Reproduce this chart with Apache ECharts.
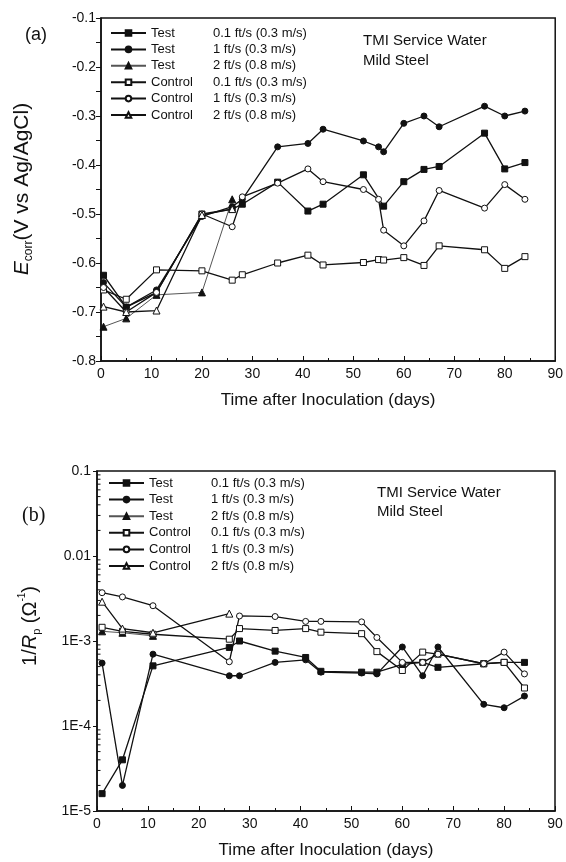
<!DOCTYPE html>
<html>
<head>
<meta charset="utf-8">
<script src="https://cdn.jsdelivr.net/npm/echarts@6/dist/echarts.min.js"></script>
<style>
html,body{margin:0;padding:0;background:#fff;}
#c{width:566px;height:862px;}
</style>
</head>
<body>
<div id="c"></div>
<script>
// ---------- Panel (a): Ecorr ----------
var aTest01Days = [0.5, 5, 11, 20, 26, 28, 35, 41, 44, 52, 56, 60, 64, 67, 76, 80, 84];
var aTest01     = [-0.625, -0.69, -0.66, -0.50, -0.49, -0.48, -0.435, -0.494, -0.48, -0.42, -0.484, -0.434, -0.409, -0.403, -0.335, -0.408, -0.395];
var aTest1Days  = [0.5, 5, 11, 20, 26, 28, 35, 41, 44, 52, 55, 56, 60, 64, 67, 76, 80, 84];
var aTest1      = [-0.64, -0.69, -0.655, -0.505, -0.485, -0.47, -0.363, -0.356, -0.327, -0.351, -0.363, -0.373, -0.315, -0.30, -0.322, -0.28, -0.30, -0.29];
var aTest2Days  = [0.5, 5, 11, 20, 26];
var aTest2      = [-0.73, -0.713, -0.665, -0.66, -0.47];
var aCtl01Days  = [0.5, 5, 11, 20, 26, 28, 35, 41, 44, 52, 55, 56, 60, 64, 67, 76, 80, 84];
var aCtl01      = [-0.655, -0.674, -0.614, -0.616, -0.635, -0.624, -0.60, -0.584, -0.604, -0.599, -0.593, -0.594, -0.589, -0.605, -0.565, -0.573, -0.611, -0.587];
var aCtl1Days   = [0.5, 5, 11, 20, 26, 28, 35, 41, 44, 52, 55, 56, 60, 64, 67, 76, 80, 84];
var aCtl1       = [-0.65, -0.70, -0.66, -0.50, -0.526, -0.465, -0.437, -0.408, -0.434, -0.45, -0.47, -0.533, -0.565, -0.514, -0.452, -0.488, -0.44, -0.47];
var aCtl2Days   = [0.5, 5, 11, 20, 26];
var aCtl2       = [-0.689, -0.70, -0.697, -0.502, -0.49];

// ---------- Panel (b): 1/Rp ----------
var bTest01Days = [1, 5, 11, 26, 28, 35, 41, 44, 52, 55, 60, 64, 67, 76, 80, 84];
var bTest01     = [1.6e-5, 4e-5, 5.1e-4, 8.4e-4, 1.0e-3, 7.6e-4, 6.4e-4, 4.4e-4, 4.3e-4, 4.3e-4, 5.3e-4, 5.6e-4, 4.9e-4, 5.4e-4, 5.6e-4, 5.6e-4];
var bTest1Days  = [1, 5, 11, 26, 28, 35, 41, 44, 52, 55, 60, 64, 67, 76, 80, 84];
var bTest1      = [5.5e-4, 2e-5, 7e-4, 3.9e-4, 3.9e-4, 5.6e-4, 6.0e-4, 4.3e-4, 4.2e-4, 4.1e-4, 8.5e-4, 3.9e-4, 8.5e-4, 1.8e-4, 1.64e-4, 2.25e-4];
var bTest2Days  = [1, 5, 11];
var bTest2      = [1.3e-3, 1.25e-3, 1.15e-3];
var bCtl01Days  = [1, 5, 11, 26, 28, 35, 41, 44, 52, 55, 60, 64, 67, 76, 80, 84];
var bCtl01      = [1.45e-3, 1.3e-3, 1.2e-3, 1.05e-3, 1.4e-3, 1.33e-3, 1.4e-3, 1.27e-3, 1.22e-3, 7.5e-4, 4.5e-4, 7.4e-4, 7.0e-4, 5.4e-4, 5.6e-4, 2.8e-4];
var bCtl1Days   = [1, 5, 11, 26, 28, 35, 41, 44, 52, 55, 60, 64, 67, 76, 80, 84];
var bCtl1       = [3.7e-3, 3.3e-3, 2.6e-3, 5.7e-4, 1.97e-3, 1.94e-3, 1.7e-3, 1.7e-3, 1.68e-3, 1.1e-3, 5.6e-4, 5.6e-4, 7.0e-4, 5.4e-4, 7.4e-4, 4.1e-4];
var bCtl2Days   = [1, 5, 11, 26];
var bCtl2       = [2.9e-3, 1.4e-3, 1.25e-3, 2.1e-3];

// ---------- Labels ----------
var seriesGroups = ['Test', 'Test', 'Test', 'Control', 'Control', 'Control'];
var seriesSpeeds = ['0.1 ft/s (0.3 m/s)', '1 ft/s (0.3 m/s)', '2 ft/s (0.8 m/s)', '0.1 ft/s (0.3 m/s)', '1 ft/s (0.3 m/s)', '2 ft/s (0.8 m/s)'];
var logTickValues = [1e-5, 1e-4, 1e-3, 0.01, 0.1];
var logTickLabels = ['1E-5', '1E-4', '1E-3', '0.01', '0.1'];
var logMinorMultipliers = [2, 3, 4, 5, 6, 7, 8, 9];
var xTitle = 'Time after Inoculation (days)';

function zip(d, v) { return d.map(function (x, i) { return [x, v[i]]; }); }

var names = seriesGroups.map(function (g, i) { return g + '|' + seriesSpeeds[i]; });
var symbols = ['rect', 'circle', 'triangle', 'rect', 'circle', 'triangle'];
var filled = [true, true, true, false, false, false];

function mkSeries(i, data, xi, yi) {
  var isT2 = (i === 2);
  return {
    type: 'line', name: names[i], xAxisIndex: xi, yAxisIndex: yi,
    data: data, symbol: symbols[i], symbolSize: symbols[i] === 'triangle' ? 7 : 6,
    showAllSymbol: true, animation: false, z: 3,
    lineStyle: { color: isT2 ? '#555' : '#111', width: isT2 ? 1 : 1.3 },
    itemStyle: { color: filled[i] ? '#111' : '#fff', borderColor: '#111', borderWidth: 1 },
    emphasis: { disabled: true }
  };
}

var aData = [zip(aTest01Days, aTest01), zip(aTest1Days, aTest1), zip(aTest2Days, aTest2),
             zip(aCtl01Days, aCtl01), zip(aCtl1Days, aCtl1), zip(aCtl2Days, aCtl2)];
var bData = [zip(bTest01Days, bTest01), zip(bTest1Days, bTest1), zip(bTest2Days, bTest2),
             zip(bCtl01Days, bCtl01), zip(bCtl1Days, bCtl1), zip(bCtl2Days, bCtl2)];

var series = [];
aData.forEach(function (d, i) { series.push(mkSeries(i, d, 0, 0)); });
bData.forEach(function (d, i) { series.push(mkSeries(i, d, 1, 1)); });

// minor ticks for the log axis (axis decoration, placed through the axis scale)
var minorLog = [];
for (var k = 0; k < logTickValues.length - 1; k++) {
  logMinorMultipliers.forEach(function (m) { minorLog.push([0, logTickValues[k] * m]); });
}
series.push({
  type: 'custom', xAxisIndex: 1, yAxisIndex: 1, data: minorLog, silent: true, animation: false, z: 5,
  clip: false,
  renderItem: function (params, api) {
    var p = api.coord([api.value(0), api.value(1)]);
    return { type: 'line', shape: { x1: p[0], y1: p[1], x2: p[0] + 3.5, y2: p[1] },
             style: { stroke: '#111', lineWidth: 1 } };
  }
});

var FONT = 'Liberation Sans, Arial, Helvetica, sans-serif';
var legendRich = {
  a: { width: 62, fontSize: 13, fontFamily: FONT, color: '#111' },
  b: { fontSize: 13, fontFamily: FONT, color: '#111' }
};
function legendFmt(n) { var p = n.split('|'); return '{a|' + p[0] + '}{b|' + p[1] + '}'; }

function xAxisCfg(gi, gap) {
  return {
    type: 'value', gridIndex: gi, min: 0, max: 90, interval: 10,
    axisLine: { show: true, lineStyle: { color: '#111', width: 1.5 } },
    axisTick: { show: true, inside: true, length: 5, lineStyle: { color: '#111' } },
    minorTick: { show: true, splitNumber: 2, length: 3, lineStyle: { color: '#111' } },
    splitLine: { show: false },
    axisLabel: { fontSize: 14, color: '#111', fontFamily: FONT, margin: 6 },
    name: xTitle, nameLocation: 'middle', nameGap: gap,
    nameTextStyle: { fontSize: 17, color: '#111', fontFamily: FONT }
  };
}

var option = {
  backgroundColor: '#fff',
  animation: false,
  grid: [
    { left: 101, top: 18, width: 456, height: 343, show: true, borderColor: '#111', borderWidth: 1.5, backgroundColor: 'transparent' },
    { left: 97, top: 471, width: 458, height: 340, show: true, borderColor: '#111', borderWidth: 1.5, backgroundColor: 'transparent' }
  ],
  xAxis: [xAxisCfg(0, 31), xAxisCfg(1, 31)],
  yAxis: [
    {
      type: 'value', gridIndex: 0, min: -0.8, max: -0.1, interval: 0.1,
      axisLine: { show: true, lineStyle: { color: '#111', width: 1.5 } },
      axisTick: { show: true, inside: false, length: 5, lineStyle: { color: '#111' } },
      minorTick: { show: true, splitNumber: 2, length: 5, lineStyle: { color: '#111' } },
      splitLine: { show: false },
      axisLabel: { fontSize: 14, color: '#111', fontFamily: FONT, margin: 5,
                   formatter: function (v) { return v.toFixed(1); } }
    },
    {
      type: 'log', logBase: 10, gridIndex: 1, min: 1e-5, max: 0.1,
      axisLine: { show: true, lineStyle: { color: '#111', width: 1.5 } },
      axisTick: { show: true, inside: false, length: 4, lineStyle: { color: '#111' } },
      splitLine: { show: false },
      axisLabel: { fontSize: 14, color: '#111', fontFamily: FONT, margin: 6,
        formatter: function (v) {
          for (var i = 0; i < logTickValues.length; i++) {
            if (Math.abs(Math.log10(v) - Math.log10(logTickValues[i])) < 0.01) return logTickLabels[i];
          }
          return '';
        } }
    }
  ],
  legend: [
    { orient: 'vertical', left: 110, top: 26.5, padding: 0, itemWidth: 35, itemHeight: 7, itemGap: 3.4,
      data: names, formatter: legendFmt, textStyle: { fontSize: 13, rich: legendRich }, selectedMode: false },
    { orient: 'vertical', left: 108, top: 476.5, padding: 0, itemWidth: 35, itemHeight: 7, itemGap: 3.6,
      data: names, formatter: legendFmt, textStyle: { fontSize: 13, rich: legendRich }, selectedMode: false }
  ],
  graphic: [
    { type: 'text', left: 25, top: 26, style: { text: '(a)', fontSize: 18, fontFamily: FONT, fill: '#111' } },
    { type: 'text', left: 22, top: 506, style: { text: '(b)', fontSize: 20, fontFamily: 'Liberation Serif, Times New Roman, serif', fill: '#111' } },
    { type: 'text', left: 363, top: 33, style: { text: 'TMI Service Water', fontSize: 15, fontFamily: FONT, fill: '#111' } },
    { type: 'text', left: 363, top: 53, style: { text: 'Mild Steel', fontSize: 15, fontFamily: FONT, fill: '#111' } },
    { type: 'text', left: 377, top: 485, style: { text: 'TMI Service Water', fontSize: 15, fontFamily: FONT, fill: '#111' } },
    { type: 'text', left: 377, top: 504, style: { text: 'Mild Steel', fontSize: 15, fontFamily: FONT, fill: '#111' } },
    { type: 'text', x: 22, y: 189, rotation: Math.PI / 2,
      style: { text: '{i|E}{s|corr}{n|(V vs Ag/AgCl)}', align: 'center', verticalAlign: 'middle',
        rich: {
          i: { fontSize: 21, fontStyle: 'italic', fontFamily: FONT, fill: '#111', lineHeight: 26 },
          s: { fontSize: 12, fontFamily: FONT, fill: '#111', lineHeight: 14, verticalAlign: 'bottom' },
          n: { fontSize: 21, fontFamily: FONT, fill: '#111', lineHeight: 26 }
        } } },
    { type: 'text', x: 30, y: 626, rotation: Math.PI / 2,
      style: { text: '{n|1/}{i|R}{s|p}{n| (Ω}{p|-1}{n|)}', align: 'center', verticalAlign: 'middle',
        rich: {
          i: { fontSize: 20, fontStyle: 'italic', fontFamily: FONT, fill: '#111', lineHeight: 25 },
          s: { fontSize: 11, fontFamily: FONT, fill: '#111', lineHeight: 13, verticalAlign: 'bottom' },
          p: { fontSize: 10, fontFamily: FONT, fill: '#111', lineHeight: 13, verticalAlign: 'top' },
          n: { fontSize: 20, fontFamily: FONT, fill: '#111', lineHeight: 25 }
        } } }
  ],
  series: series
};

var chart = echarts.init(document.getElementById('c'), null, { renderer: 'canvas' });
chart.setOption(option);
</script>
</body>
</html>
